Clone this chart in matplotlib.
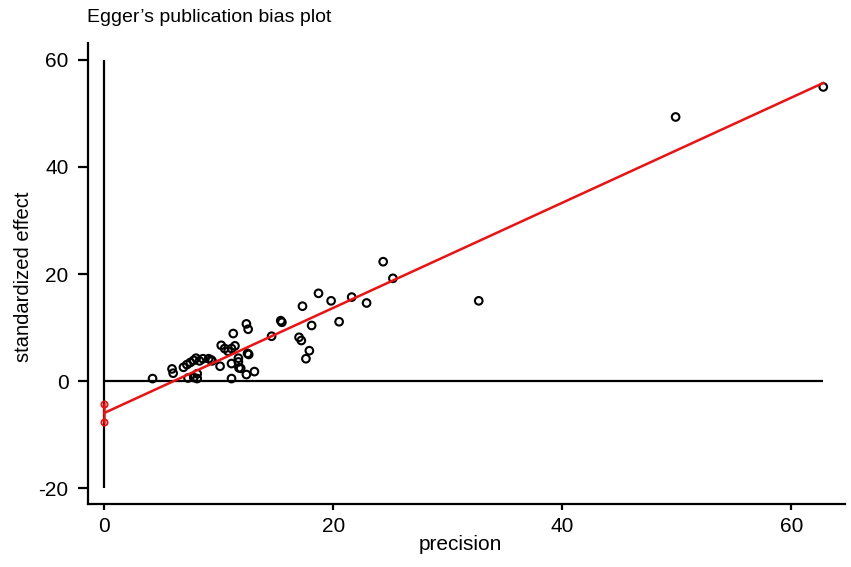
import matplotlib
matplotlib.use("Agg")
import matplotlib.pyplot as plt
import numpy as np

# precision (1/se) and standardized effect (effect/se) per study
PRECISION = [
    4.2, 5.9, 6.0, 7.3, 7.8, 8.1, 8.1,
    6.9, 7.2, 7.5, 7.8, 8.0, 8.3, 8.6, 9.1, 9.3, 9.4,
    10.1, 10.2, 10.5, 10.8, 11.1, 11.4, 11.25, 11.1, 11.7, 11.75, 11.7,
    11.9, 12.6, 12.4, 13.1, 11.1, 12.4, 12.55, 12.5,
    14.6, 15.4, 15.5, 17.3, 18.7, 19.8, 21.6, 22.9, 18.1, 20.5,
    17.0, 17.2, 17.9, 17.6, 24.35, 25.2, 32.7, 49.9, 62.8,
]
STD_EFFECT = [
    0.5, 2.3, 1.5, 0.6, 0.7, 1.4, 0.5,
    2.6, 3.1, 3.5, 3.9, 4.3, 3.8, 4.2, 4.2, 4.0, 3.8,
    2.8, 6.7, 6.1, 5.6, 6.1, 6.6, 8.9, 3.3, 3.6, 2.5, 4.3,
    2.4, 5.0, 1.25, 1.8, 0.5, 10.7, 9.7, 5.2,
    8.4, 11.3, 11.0, 14.0, 16.4, 15.0, 15.7, 14.6, 10.4, 11.1,
    8.2, 7.6, 5.7, 4.2, 22.3, 19.2, 15.0, 49.3, 54.9,
]

# Egger regression: standardized effect = intercept + slope * precision
INTERCEPT = -5.9
SLOPE = 0.98
CI_LOW = -7.6
CI_HIGH = -4.2

X_TICKS = [0, 20, 40, 60]
Y_TICKS = [-20, 0, 20, 40, 60]

W, H = 851, 567


def main() -> None:
    plt.rcParams["font.family"] = ["Liberation Sans", "DejaVu Sans"]
    plt.rcParams["axes.unicode_minus"] = False

    fig = plt.figure(figsize=(W / 100, H / 100), dpi=100)
    left, right, top, bottom = 88, 845, 43, 504
    ax = fig.add_axes([left / W, 1 - bottom / H, (right - left) / W, (bottom - top) / H])

    ax.set_xlim(-1.44, 64.7)
    ax.set_ylim(-22.9, 63.1)

    # reference lines at x=0 and y=0
    ax.vlines(0, min(Y_TICKS), max(Y_TICKS), color="black", lw=1.6, zorder=1)
    ax.hlines(0, 0, max(PRECISION), color="black", lw=1.6, zorder=1)

    # points
    ax.scatter(PRECISION, STD_EFFECT, s=30, facecolors="none",
               edgecolors="black", linewidths=1.5, zorder=3)

    # fitted line and intercept CI
    xs = np.array([0, max(PRECISION)])
    ax.plot(xs, INTERCEPT + SLOPE * xs, color="#ee1111", lw=1.8, zorder=4)
    ax.plot([0, 0], [CI_LOW, CI_HIGH], color="#ee1111", lw=1.8, marker="o",
            ms=4.5, mfc="none", mew=1.3, zorder=4)

    for s in ("top", "right"):
        ax.spines[s].set_visible(False)
    for s in ("left", "bottom"):
        ax.spines[s].set_linewidth(1.6)

    ax.set_xticks(X_TICKS)
    ax.set_yticks(Y_TICKS)
    ax.tick_params(axis="y", length=7, width=1.6, pad=7, labelsize=15)
    ax.tick_params(axis="x", length=4.5, width=1.6, pad=5, labelsize=15)

    ax.set_xlabel("precision", fontsize=15, va="center")
    ax.xaxis.set_label_coords((460 - left) / (right - left), (bottom - 545) / (bottom - top))
    ax.set_ylabel("standardized effect", fontsize=14.5, va="center")
    ax.yaxis.set_label_coords((24 - left) / (right - left), (bottom - 277) / (bottom - top))

    fig.text(87 / W, 1 - 17 / H, "Egger\u2019s publication bias plot",
             fontsize=14, ha="left", va="center")

    fig.savefig("out.png", dpi=100)


if __name__ == "__main__":
    main()
